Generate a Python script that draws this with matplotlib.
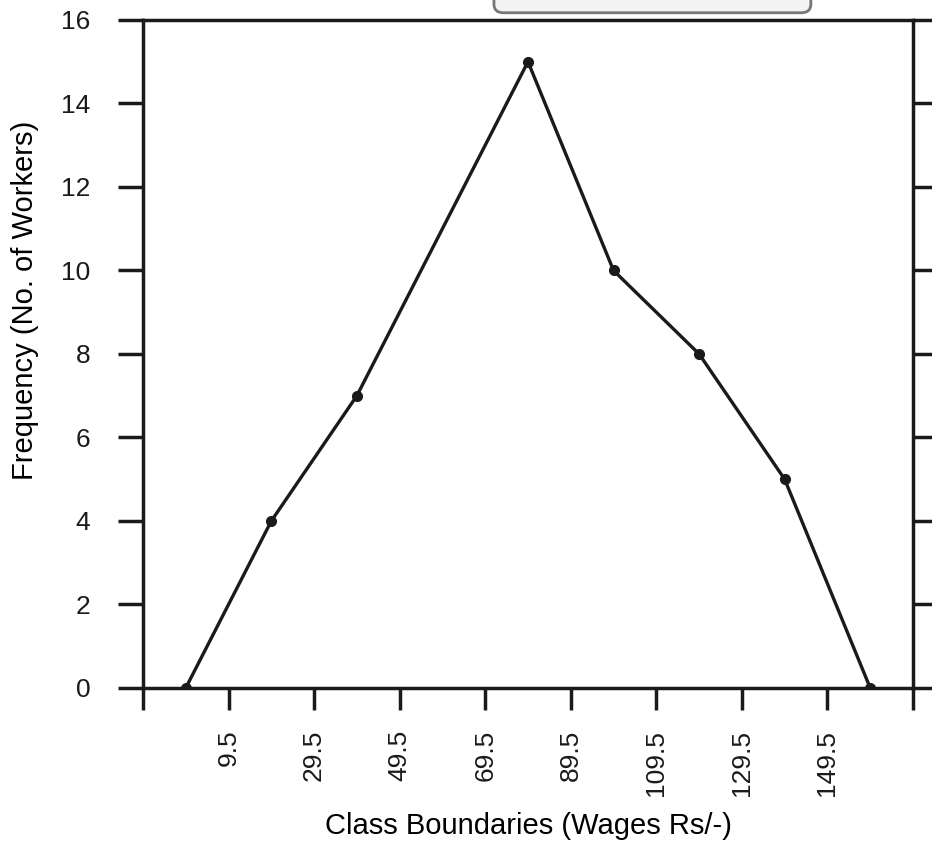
import matplotlib.pyplot as plt
from matplotlib.patches import FancyBboxPatch
import numpy as np

plt.rcParams['font.family'] = ['Liberation Sans', 'DejaVu Sans']

# class mid-points and frequencies (frequency polygon)
midpoints = [-0.5, 19.5, 39.5, 59.5, 79.5, 99.5, 119.5, 139.5, 159.5]
frequency = [0, 4, 7, 11, 15, 10, 8, 5, 0]
boundaries = [9.5, 29.5, 49.5, 69.5, 89.5, 109.5, 129.5, 149.5]
yticks = [0, 2, 4, 6, 8, 10, 12, 14, 16]

fig = plt.figure(figsize=(9.32, 8.5), dpi=100)
ax = fig.add_axes([0.1534, 0.1906, 0.8262, 0.7859])

dots = [i for i in range(len(midpoints)) if midpoints[i] != 59.5]
ax.plot(midpoints, frequency, color='#1a1a1a', lw=2.4,
        marker='o', markersize=7, markevery=dots)

ax.set_xlim(-10.5, 169.5)
ax.set_ylim(0, 16)

ax.set_xticks([-10.5] + boundaries + [169.5])
ax.set_xticklabels([''] + [str(b) for b in boundaries] + [''], rotation=90)
ax.set_yticks(yticks)
ax.set_yticklabels([str(v) for v in yticks])

ax.tick_params(axis='x', direction='out', length=16, width=2.5, pad=14,
               labelsize=19, colors='#1a1a1a')
ax.tick_params(axis='y', direction='out', length=18, width=2.5, pad=20,
               labelsize=19, colors='#1a1a1a', right=True)

for s in ax.spines.values():
    s.set_linewidth(2.5)
    s.set_color('#1a1a1a')

ax.set_xlabel("Class Boundaries (Wages Rs/-)", fontsize=21, labelpad=12)
ax.set_ylabel("Frequency (No. of Workers)", fontsize=21, labelpad=16)
ax.yaxis.label.set_y(0.58)

# cropped title box at the very top
fig.patches.append(FancyBboxPatch((0.535, 0.99), 0.33, 0.05,
                                  boxstyle="round,pad=0.005,rounding_size=0.01",
                                  transform=fig.transFigure, facecolor='#f4f4f4',
                                  edgecolor='#777777', lw=2))

fig.savefig('out.png', dpi=100)
